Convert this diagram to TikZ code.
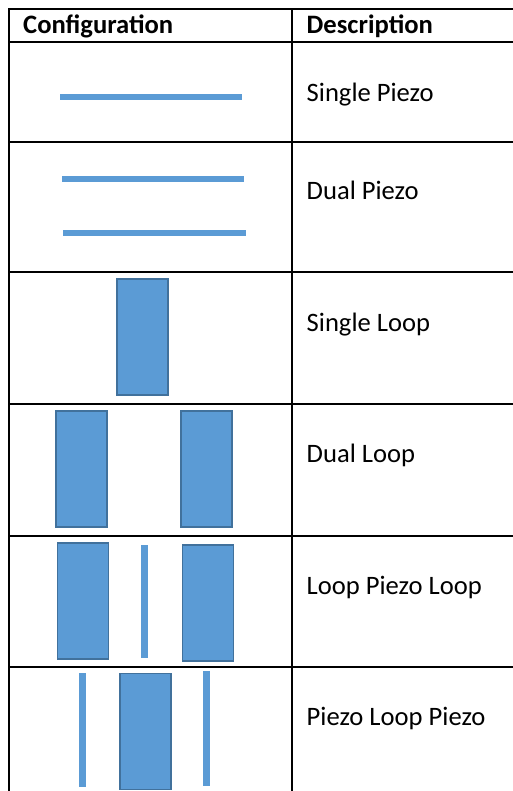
\documentclass[tikz,border=0pt]{standalone}
\usepackage{fontspec}
\setmainfont{Carlito}
\definecolor{piezoblue}{HTML}{5B9BD5}
\definecolor{loopedge}{HTML}{41719C}
\begin{document}
\begin{tikzpicture}[x=1pt,y=-1pt,
  grid/.style={line width=2pt, black},
  piezoh/.style={fill=piezoblue, draw=none, inner sep=0pt, outer sep=0pt, minimum height=6pt},
  piezov/.style={fill=piezoblue, draw=none, inner sep=0pt, outer sep=0pt, minimum width=6.5pt},
  loopbox/.style={fill=piezoblue, draw=loopedge, line width=1.8pt, inner sep=0pt, outer sep=0pt, minimum width=51pt, minimum height=116pt},
  label/.style={anchor=base west, inner sep=0pt, font=\fontsize{26.6}{30}\selectfont},
  head/.style={label, font=\fontsize{26.6}{30}\selectfont\bfseries}]
\useasboundingbox (0,0) rectangle (512,791);
\fill[white] (0,0) rectangle (512,791);
% table rules
\coordinate (tl) at (8.5,9);
\coordinate (tr) at (514,9);
\coordinate (bl) at (8.5,792);
\coordinate (ct) at (292,9);
\coordinate (cb) at (292,792);
\draw[grid] (tr) -- (tl) -- (bl);
\draw[grid] (ct) -- (cb);
\foreach \yy in {42,142,272,404,536,667}{
  \draw[grid] (8.5,\yy) -- (514,\yy);
}
% header
\node[head] (h1) at (23,33.3) {Configuration};
\node[head] (h2) at (306.5,33.3) {Description};
% descriptions
\node[label] (d1) at (306.5,101.7) {Single Piezo};
\node[label] (d2) at (306.5,199.3) {Dual Piezo};
\node[label] (d3) at (306.5,331) {Single Loop};
\node[label] (d4) at (306.5,462.7) {Dual Loop};
\node[label] (d5) at (306.5,594) {Loop Piezo Loop};
\node[label] (d6) at (306.5,725.7) {Piezo Loop Piezo};
% row 1
\node[piezoh, minimum width=181.7pt] (p1) at (150.85,97.5) {};
% row 2
\node[piezoh, minimum width=182.3pt] (p2a) at (152.85,179) {};
\node[piezoh, minimum width=182.7pt] (p2b) at (154.65,233.3) {};
% row 3
\node[loopbox, minimum height=116.4pt] (l3) at (142.15,337) {};
% row 4
\node[loopbox] (l4a) at (81.8,469.2) {};
\node[loopbox] (l4b) at (206.15,469.2) {};
% row 5
\node[loopbox] (l5a) at (83,600.8) {};
\node[piezov, minimum height=112.7pt] (p5) at (144.65,601.35) {};
\node[loopbox] (l5b) at (208,603) {};
% row 6
\node[piezov, minimum height=113.4pt] (p6a) at (82.5,730) {};
\node[loopbox] (l6) at (145.5,731.4) {};
\node[piezov, minimum height=114.7pt] (p6b) at (206.5,728.35) {};
\end{tikzpicture}
\end{document}
